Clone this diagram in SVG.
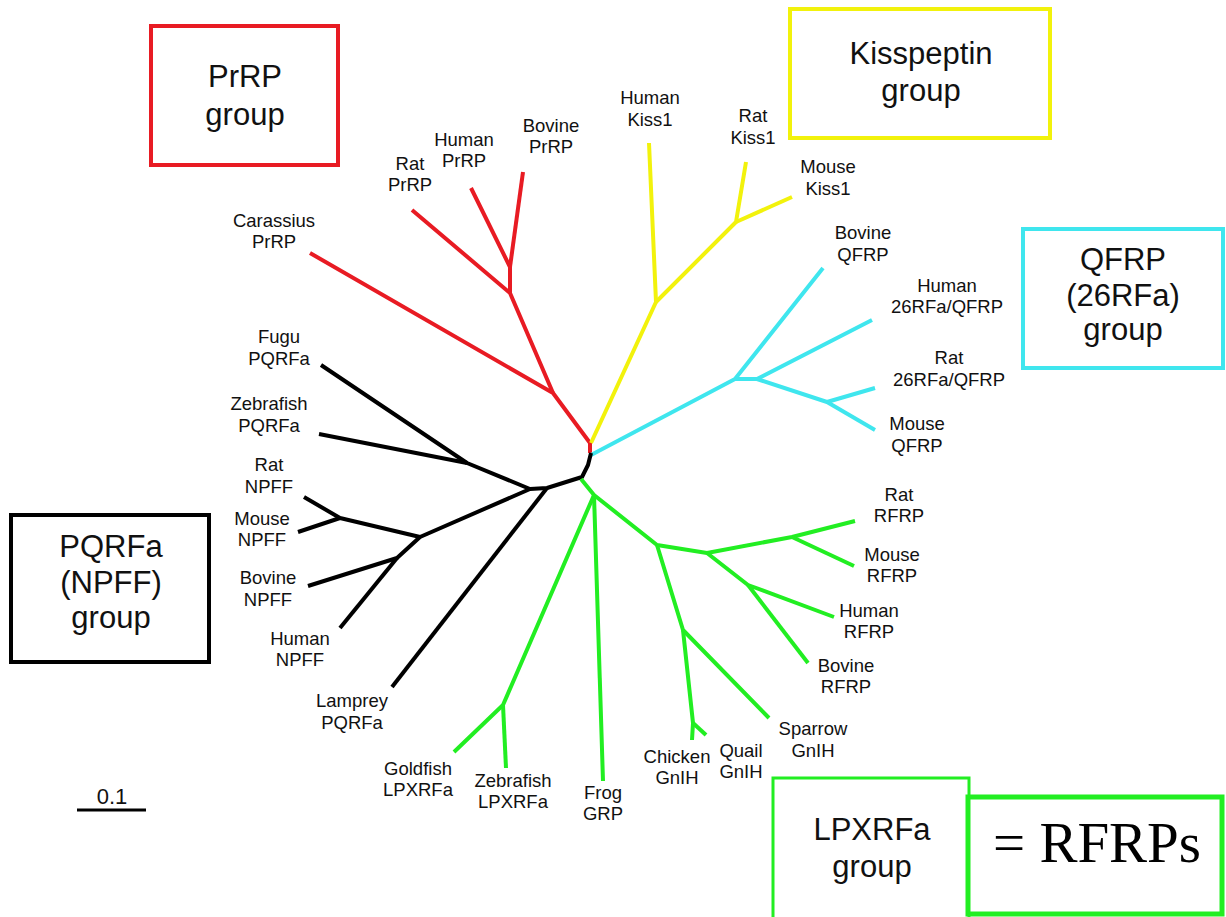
<svg xmlns="http://www.w3.org/2000/svg" width="1226" height="917" viewBox="0 0 1226 917">
<style>
.lbl{font-family:"Liberation Sans",Arial,sans-serif;font-size:18.5px;fill:#111;text-anchor:middle}
.box{font-family:"Liberation Sans",Arial,sans-serif;font-size:31px;fill:#111;text-anchor:middle}
.br{fill:none;stroke-width:4;stroke-linejoin:round;stroke-linecap:butt}
.red{stroke:#e81b23}.yel{stroke:#f2f20c}.cya{stroke:#3fe6ee}.blk{stroke:#000}.grn{stroke:#22ee22}
</style>
<rect width="1226" height="917" fill="#fff"/>
<g id="connectors">
<polyline class="br red" points="590,453 590,443 553,393 310,253"/>
<polyline class="br red" points="553,393 510,293 412,210"/>
<polyline class="br red" points="510,293 510,267 471,188"/>
<polyline class="br red" points="510,267 523,172"/>
<polyline class="br yel" points="591,443 656,302 649,143"/>
<polyline class="br yel" points="656,302 736,222 746,162"/>
<polyline class="br yel" points="736,222 792,197"/>
<polyline class="br cya" points="591,455 735,379 823,268"/>
<polyline class="br cya" points="735,379 757,379 872,320"/>
<polyline class="br cya" points="757,379 827,402 875,388"/>
<polyline class="br cya" points="827,402 875,430"/>
<polyline class="br blk" points="591,453 588,465 582,477 547,488 530,489 467,463 321,365"/>
<polyline class="br blk" points="467,463 319,434"/>
<polyline class="br blk" points="530,489 420,537 340,518 304,497"/>
<polyline class="br blk" points="340,518 298,532"/>
<polyline class="br blk" points="420,537 397,558 308,586"/>
<polyline class="br blk" points="397,558 340,628"/>
<polyline class="br blk" points="547,488 392,687"/>
<polyline class="br grn" points="581,479 594,495 657,545 707,553 792,537 855,521"/>
<polyline class="br grn" points="792,537 854,566"/>
<polyline class="br grn" points="707,553 748,585 834,617"/>
<polyline class="br grn" points="748,585 808,663"/>
<polyline class="br grn" points="657,545 683,630 769,718"/>
<polyline class="br grn" points="683,630 693,723 692,740"/>
<polyline class="br grn" points="693,723 706,735"/>
<polyline class="br grn" points="594,495 603,781"/>
<polyline class="br grn" points="594,495 503,705 454,752"/>
<polyline class="br grn" points="503,705 506,768"/>
<line x1="77" y1="810" x2="146" y2="810" stroke="#000" stroke-width="3"/>
</g>
<g id="box-prrp"><rect x="151" y="26" width="187" height="139" fill="none" stroke="#e81b23" stroke-width="4"/><text class="box" x="245" y="87">PrRP</text><text class="box" x="245" y="125">group</text></g>
<g id="box-kiss"><rect x="790" y="9" width="260" height="129" fill="none" stroke="#f2f20c" stroke-width="4"/><text class="box" x="921" y="64">Kisspeptin</text><text class="box" x="921" y="101">group</text></g>
<g id="box-qfrp"><rect x="1023" y="229" width="200" height="139" fill="none" stroke="#3fe6ee" stroke-width="4"/><text class="box" x="1123" y="270">QFRP</text><text class="box" x="1123" y="306">(26RFa)</text><text class="box" x="1123" y="340">group</text></g>
<g id="box-pqrfa"><rect x="11" y="515" width="198" height="147" fill="none" stroke="#000" stroke-width="4"/><text class="box" x="111" y="557">PQRFa</text><text class="box" x="111" y="593">(NPFF)</text><text class="box" x="111" y="628">group</text></g>
<g id="box-lpxrfa"><rect x="773" y="778" width="196" height="145" fill="none" stroke="#22ee22" stroke-width="3"/><text class="box" x="872" y="840">LPXRFa</text><text class="box" x="872" y="877">group</text></g>
<g id="box-rfrps"><rect x="968" y="797" width="254" height="117" fill="#fff" stroke="#22ee22" stroke-width="5"/><text x="1097" y="862" font-family="'Liberation Serif','Times New Roman',serif" font-size="57" fill="#000" text-anchor="middle">= RFRPs</text></g>
<g id="scale"><text class="lbl" x="112" y="804" style="font-size:22px">0.1</text></g>
<g id="n-bovine-prrp"><text class="lbl" x="551" y="132">Bovine</text><text class="lbl" x="551" y="153">PrRP</text></g>
<g id="n-human-prrp"><text class="lbl" x="464" y="146">Human</text><text class="lbl" x="464" y="167">PrRP</text></g>
<g id="n-rat-prrp"><text class="lbl" x="410" y="170">Rat</text><text class="lbl" x="410" y="191">PrRP</text></g>
<g id="n-carassius-prrp"><text class="lbl" x="274" y="227">Carassius</text><text class="lbl" x="274" y="248">PrRP</text></g>
<g id="n-human-kiss1"><text class="lbl" x="650" y="104">Human</text><text class="lbl" x="650" y="126">Kiss1</text></g>
<g id="n-rat-kiss1"><text class="lbl" x="753" y="122">Rat</text><text class="lbl" x="753" y="144">Kiss1</text></g>
<g id="n-mouse-kiss1"><text class="lbl" x="828" y="173">Mouse</text><text class="lbl" x="828" y="195">Kiss1</text></g>
<g id="n-bovine-qfrp"><text class="lbl" x="863" y="239">Bovine</text><text class="lbl" x="863" y="261">QFRP</text></g>
<g id="n-human-26rfa"><text class="lbl" x="947" y="292">Human</text><text class="lbl" x="947" y="313">26RFa/QFRP</text></g>
<g id="n-rat-26rfa"><text class="lbl" x="949" y="364">Rat</text><text class="lbl" x="949" y="386">26RFa/QFRP</text></g>
<g id="n-mouse-qfrp"><text class="lbl" x="917" y="430">Mouse</text><text class="lbl" x="917" y="452">QFRP</text></g>
<g id="n-fugu-pqrfa"><text class="lbl" x="279" y="343">Fugu</text><text class="lbl" x="279" y="365">PQRFa</text></g>
<g id="n-zebrafish-pqrfa"><text class="lbl" x="269" y="410">Zebrafish</text><text class="lbl" x="269" y="432">PQRFa</text></g>
<g id="n-rat-npff"><text class="lbl" x="269" y="471">Rat</text><text class="lbl" x="269" y="493">NPFF</text></g>
<g id="n-mouse-npff"><text class="lbl" x="262" y="525">Mouse</text><text class="lbl" x="262" y="546">NPFF</text></g>
<g id="n-bovine-npff"><text class="lbl" x="268" y="584">Bovine</text><text class="lbl" x="268" y="606">NPFF</text></g>
<g id="n-human-npff"><text class="lbl" x="300" y="645">Human</text><text class="lbl" x="300" y="666">NPFF</text></g>
<g id="n-lamprey-pqrfa"><text class="lbl" x="352" y="707">Lamprey</text><text class="lbl" x="352" y="729">PQRFa</text></g>
<g id="n-rat-rfrp"><text class="lbl" x="899" y="501">Rat</text><text class="lbl" x="899" y="522">RFRP</text></g>
<g id="n-mouse-rfrp"><text class="lbl" x="892" y="561">Mouse</text><text class="lbl" x="892" y="582">RFRP</text></g>
<g id="n-human-rfrp"><text class="lbl" x="869" y="617">Human</text><text class="lbl" x="869" y="638">RFRP</text></g>
<g id="n-bovine-rfrp"><text class="lbl" x="846" y="672">Bovine</text><text class="lbl" x="846" y="693">RFRP</text></g>
<g id="n-sparrow-gnih"><text class="lbl" x="813" y="735">Sparrow</text><text class="lbl" x="813" y="757">GnIH</text></g>
<g id="n-quail-gnih"><text class="lbl" x="741" y="757">Quail</text><text class="lbl" x="741" y="778">GnIH</text></g>
<g id="n-chicken-gnih"><text class="lbl" x="677" y="763">Chicken</text><text class="lbl" x="677" y="784">GnIH</text></g>
<g id="n-frog-grp"><text class="lbl" x="603" y="799">Frog</text><text class="lbl" x="603" y="820">GRP</text></g>
<g id="n-zebrafish-lpxrfa"><text class="lbl" x="513" y="787">Zebrafish</text><text class="lbl" x="513" y="808">LPXRFa</text></g>
<g id="n-goldfish-lpxrfa"><text class="lbl" x="418" y="775">Goldfish</text><text class="lbl" x="418" y="796">LPXRFa</text></g>
</svg>
